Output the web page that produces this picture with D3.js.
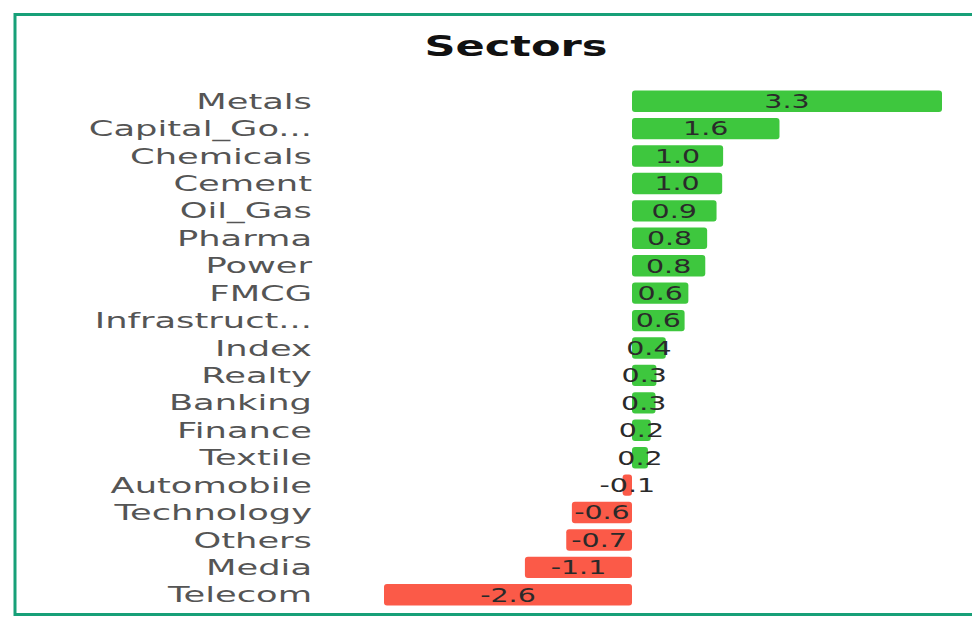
<!DOCTYPE html>
<html>
<head>
<meta charset="utf-8">
<script src="https://cdn.jsdelivr.net/npm/d3@7"></script>
<style>
  body { margin: 0; background: #fff; }
  svg { display: block; }
</style>
</head>
<body>
<div id="chart"></div>
<script>
// sector names as shown (long ones are cut in the picture)
var sectors = ["Metals", "Capital_Go...", "Chemicals", "Cement", "Oil_Gas", "Pharma", "Power",
  "FMCG", "Infrastruct...", "Index", "Realty", "Banking", "Finance", "Textile",
  "Automobile", "Technology", "Others", "Media", "Telecom"];
// % change
var changes = [3.3, 1.57, 0.97, 0.96, 0.9, 0.8, 0.78, 0.6, 0.56, 0.36, 0.26, 0.25, 0.2, 0.17,
  -0.1, -0.64, -0.7, -1.14, -2.64];

var width = 972, height = 623;
var stretch = 1.5;    // text in the picture is drawn wide
var catStretch = 1.68;

var svg = d3.select("#chart")
  .append("svg")
    .attr("width", width)
    .attr("height", height);

// frame
svg.append("rect")
  .attr("x", 15)
  .attr("y", 14.5)
  .attr("width", 970)
  .attr("height", 600)
  .attr("fill", "none")
  .attr("stroke", "#17a078")
  .attr("stroke-width", 3);

svg.append("text")
  .attr("transform", "translate(516,56) scale(1.54,1)")
  .attr("text-anchor", "middle")
  .attr("font-family", "DejaVu Sans")
  .attr("font-weight", "bold")
  .attr("font-size", "28px")
  .attr("fill", "#111")
  .text("Sectors");

var x = d3.scaleLinear().domain([-2.64, 3.3]).range([384, 942]);
var y = d3.scaleBand().domain(sectors).range([87.5, 608.5]).paddingInner(0.22).paddingOuter(0.11);

var data = sectors.map(function(d, i) { return { name: d, value: changes[i] }; });

svg.selectAll("rect.bar")
  .data(data)
  .enter()
  .append("rect")
    .attr("class", "bar")
    .attr("x", function(d) { return x(Math.min(0, d.value)); })
    .attr("y", function(d) { return y(d.name); })
    .attr("width", function(d) { return Math.abs(x(d.value) - x(0)); })
    .attr("height", y.bandwidth())
    .attr("rx", 3)
    .attr("fill", function(d) { return d.value >= 0 ? "#3ec73e" : "#fb5a48"; });

// category labels
svg.selectAll("text.cat")
  .data(data)
  .enter()
  .append("text")
    .attr("class", "cat")
    .attr("transform", function(d) {
      return "translate(312," + (y(d.name) + y.bandwidth() / 2) + ") scale(" + catStretch + ",1)";
    })
    .attr("dy", "0.36em")
    .attr("text-anchor", "end")
    .attr("font-family", "DejaVu Sans")
    .attr("font-size", "21px")
    .attr("fill", "#555")
    .text(function(d) { return d.name; });

// value labels in the middle of each bar
var fmt = d3.format(".1f");
svg.selectAll("text.val")
  .data(data)
  .enter()
  .append("text")
    .attr("class", "val")
    .attr("transform", function(d) {
      var cx = (x(d.value) + x(0)) / 2;
      return "translate(" + cx + "," + (y(d.name) + y.bandwidth() / 2) + ") scale(" + stretch + ",1)";
    })
    .attr("dy", "0.36em")
    .attr("text-anchor", "middle")
    .attr("font-family", "DejaVu Sans")
    .attr("font-size", "19px")
    .attr("fill", "#2a2a2a")
    .text(function(d) { return fmt(d.value).replace("\u2212", "-"); });
</script>
</body>
</html>
